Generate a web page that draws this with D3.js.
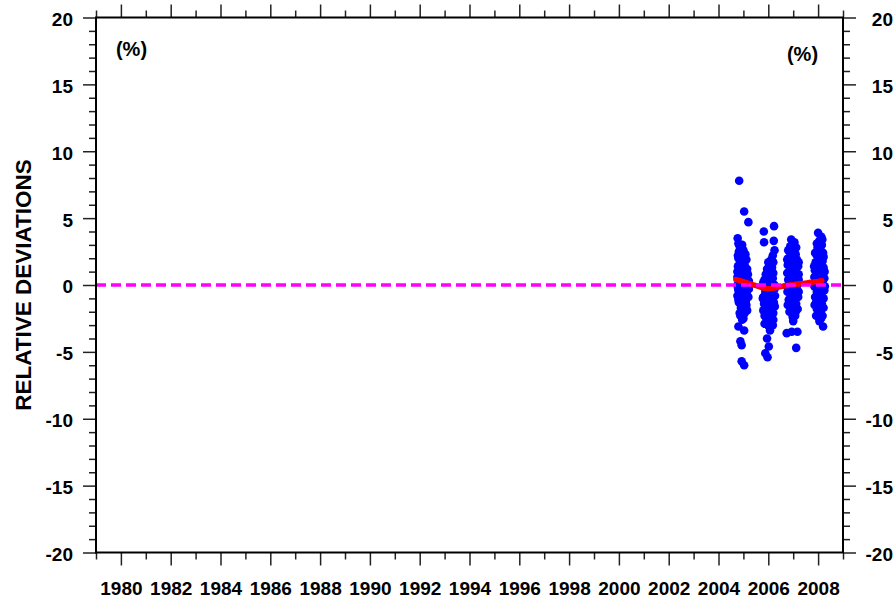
<!DOCTYPE html>
<html>
<head>
<meta charset="utf-8">
<script src="https://cdn.jsdelivr.net/npm/d3@7"></script>
<style>
  html, body { margin: 0; padding: 0; background: #fff; }
  svg { display: block; }
  text { font-family: "Liberation Sans", Arial, Helvetica, sans-serif; font-weight: bold; fill: #000; }
</style>
</head>
<body>
<svg id="chart" width="895" height="601"></svg>
<script>
// Axis labels
const yearLabels = [1980, 1982, 1984, 1986, 1988, 1990, 1992, 1994, 1996, 1998, 2000, 2002, 2004, 2006, 2008];
const yTickLabels = [-20, -15, -10, -5, 0, 5, 10, 15, 20];

// Individual relative deviations (%) : [decimal year, deviation]
const season2005 = [
  [2004.83, 7.8], [2005.03, 5.5], [2005.20, 4.7], [2004.77, 3.5], [2004.80, 3.1], [2004.85, 2.9],
  [2004.92, 2.7], [2004.82, 2.5], [2004.95, 2.4], [2004.88, 2.2], [2004.80, 2.0], [2005.00, 2.0],
  [2004.90, 1.8], [2004.85, 1.6], [2005.05, 1.5], [2004.78, 1.4], [2004.95, 1.3], [2004.88, 1.1],
  [2005.10, 1.0], [2004.82, 0.9], [2005.00, 0.8], [2004.92, 0.7], [2004.76, 0.6], [2005.15, 0.5],
  [2005.05, 0.4], [2004.85, 0.3], [2004.97, 0.2], [2005.20, 0.1], [2004.76, 0.0], [2005.08, -0.1],
  [2004.90, -0.2], [2005.22, -0.3], [2004.80, -0.4], [2005.02, -0.5], [2004.93, -0.6], [2005.14, -0.7],
  [2004.76, -0.8], [2005.00, -0.9], [2004.88, -1.0], [2005.10, -1.2], [2004.82, -1.3], [2004.97, -1.5],
  [2004.90, -1.7], [2005.03, -1.9], [2004.85, -2.1], [2005.05, -2.1], [2004.88, -2.3], [2004.80, -3.1],
  [2005.03, -3.4], [2004.88, -4.2], [2004.93, -4.5], [2004.93, -5.7], [2005.03, -6.0],
  [2005.12, 1.9], [2005.15, 1.2], [2005.18, 0.8], [2005.22, 0.3], [2005.16, -0.2], [2005.20, -0.9],
  [2004.78, 2.2], [2004.76, 1.0], [2004.78, -0.2], [2004.80, -1.1], [2005.12, -1.5], [2005.00, 2.6],
  [2004.95, 3.0], [2005.08, 2.3], [2005.15, -1.9], [2004.95, -2.6], [2005.00, -2.5], [2004.92, 0.0]
];
const season2006 = [
  [2006.23, 4.4], [2005.82, 4.0], [2005.83, 3.2], [2006.22, 3.3], [2006.25, 2.6], [2006.18, 2.2],
  [2006.12, 1.9], [2006.20, 1.7], [2006.05, 1.5], [2006.15, 1.3], [2005.95, 1.2], [2006.08, 1.0],
  [2006.20, 0.9], [2005.90, 0.8], [2006.02, 0.6], [2006.18, 0.5], [2005.85, 0.4], [2006.10, 0.3],
  [2005.95, 0.1], [2006.25, 0.0], [2005.80, -0.1], [2006.05, -0.2], [2006.20, -0.4], [2005.88, -0.5],
  [2006.00, -0.6], [2006.27, -0.8], [2005.80, -0.9], [2006.12, -1.0], [2005.93, -1.2], [2006.22, -1.3],
  [2005.83, -1.4], [2006.05, -1.5], [2006.15, -1.7], [2005.90, -1.8], [2006.00, -2.0], [2006.20, -2.1],
  [2005.85, -2.3], [2006.08, -2.4], [2005.95, -2.6], [2006.12, -2.7], [2005.85, -2.9], [2006.03, -3.1],
  [2006.07, -3.4], [2005.95, -4.0], [2006.02, -4.6], [2005.88, -5.1], [2005.97, -5.4],
  [2006.10, 1.4], [2005.98, 0.9], [2005.80, 0.2], [2006.25, -0.3], [2006.26, -1.6], [2005.78, -1.0],
  [2005.80, -1.9], [2006.20, -2.6], [2006.00, -3.0], [2005.92, 0.0], [2006.10, -0.4], [2005.90, -2.4],
  [2006.15, 0.2], [2006.00, 1.7], [2006.18, -3.0]
];
const season2007 = [
  [2006.92, 3.4], [2006.98, 3.1], [2006.88, 2.9], [2007.05, 2.7], [2006.85, 2.5], [2007.10, 2.3],
  [2006.95, 2.2], [2006.80, 2.0], [2007.15, 1.9], [2007.00, 1.7], [2006.78, 1.5], [2007.20, 1.4],
  [2006.90, 1.2], [2007.08, 1.1], [2006.76, 0.9], [2007.22, 0.8], [2006.95, 0.7], [2007.12, 0.5],
  [2006.80, 0.4], [2007.02, 0.3], [2007.20, 0.1], [2006.85, 0.0], [2006.97, -0.2], [2007.15, -0.3],
  [2006.77, -0.5], [2007.05, -0.6], [2006.90, -0.8], [2007.20, -0.9], [2006.82, -1.1], [2007.00, -1.2],
  [2007.12, -1.4], [2006.88, -1.5], [2007.05, -1.7], [2006.92, -1.9], [2007.10, -2.0], [2006.98, -2.2],
  [2006.98, -2.4], [2007.00, -2.7], [2006.74, -3.6], [2006.94, -3.5], [2007.17, -3.5], [2007.12, -4.7],
  [2007.05, 3.2], [2007.12, 2.8], [2006.80, 2.6], [2006.76, 1.9], [2007.22, 1.7], [2007.22, 0.4],
  [2006.75, -0.1], [2007.22, -0.5], [2006.78, -1.5], [2007.18, -1.8], [2006.85, -2.0], [2007.08, -2.3],
  [2006.95, 1.0], [2007.05, -0.2], [2006.88, -1.2]
];
const season2008 = [
  [2008.00, 3.9], [2008.13, 3.6], [2008.05, 3.3], [2008.15, 3.0], [2007.98, 2.8], [2008.10, 2.6],
  [2008.20, 2.4], [2007.95, 2.2], [2008.08, 2.0], [2008.18, 1.8], [2007.90, 1.7], [2008.05, 1.5],
  [2008.22, 1.3], [2007.87, 1.1], [2008.00, 1.0], [2008.15, 0.8], [2007.85, 0.6], [2008.25, 0.5],
  [2008.05, 0.4], [2007.92, 0.2], [2008.18, 0.1], [2007.85, -0.1], [2008.08, -0.2], [2008.25, -0.4],
  [2007.95, -0.5], [2008.12, -0.7], [2007.88, -0.9], [2008.22, -1.0], [2008.02, -1.1], [2007.92, -1.3],
  [2008.15, -1.4], [2008.05, -1.6], [2007.95, -1.8], [2008.10, -2.0], [2008.00, -2.2], [2008.12, -2.5],
  [2008.05, -2.7], [2008.20, -3.1],
  [2008.17, 3.4], [2007.95, 3.1], [2008.22, 2.1], [2007.88, 2.4], [2007.84, 1.4], [2008.26, 1.0],
  [2007.84, 0.0], [2008.27, -0.1], [2007.86, -1.5], [2008.22, -1.7], [2007.92, -2.3], [2008.18, -2.3],
  [2008.02, 0.6], [2008.10, -1.0]
];

// Smoothed trend of the deviations
const trendYears  = [2004.70, 2004.90, 2005.20, 2005.50, 2005.80, 2006.00, 2006.25, 2006.50, 2006.80, 2007.10, 2007.40, 2007.70, 2008.00, 2008.15];
const trendValues = [0.40, 0.30, 0.12, -0.05, -0.22, -0.28, -0.22, -0.12, -0.02, 0.05, 0.12, 0.20, 0.27, 0.32];

const plot = { left: 96, right: 843, top: 17.5, bottom: 552.5 };

const svg = d3.select("#chart");
const x = d3.scaleLinear().domain([1979, 2009]).range([plot.left, plot.right]);
const y = d3.scaleLinear().domain([-20, 20]).range([plot.bottom, plot.top]);

const allYears = d3.range(1979, 2010);
const minorYears = allYears.filter(v => v % 2 !== 0);
const minorY = d3.range(-20, 21).filter(v => v % 5 !== 0);
const plain = d => String(d);

function styleTicks(g) {
  g.select(".domain").remove();
  g.selectAll(".tick line").attr("stroke", "#222").attr("stroke-width", 1.5);
}

// Minor ticks (every year / every 1 %)
svg.append("g").attr("transform", `translate(0,${plot.bottom})`)
  .call(d3.axisBottom(x).tickValues(minorYears).tickSize(7).tickFormat(""))
  .call(styleTicks);
svg.append("g").attr("transform", `translate(0,${plot.top})`)
  .call(d3.axisTop(x).tickValues(minorYears).tickSize(7).tickFormat(""))
  .call(styleTicks);
svg.append("g").attr("transform", `translate(${plot.left},0)`)
  .call(d3.axisLeft(y).tickValues(minorY).tickSize(7).tickFormat(""))
  .call(styleTicks);
svg.append("g").attr("transform", `translate(${plot.right},0)`)
  .call(d3.axisRight(y).tickValues(minorY).tickSize(7).tickFormat(""))
  .call(styleTicks);

// Major ticks with labels
const xb = svg.append("g").attr("transform", `translate(0,${plot.bottom})`)
  .call(d3.axisBottom(x).tickValues(yearLabels).tickSize(13).tickPadding(16).tickFormat(plain))
  .call(styleTicks);
xb.selectAll("text").attr("font-size", 19).attr("fill", "#000");

svg.append("g").attr("transform", `translate(0,${plot.top})`)
  .call(d3.axisTop(x).tickValues(yearLabels).tickSize(13).tickFormat(""))
  .call(styleTicks);

const yl = svg.append("g").attr("transform", `translate(${plot.left},0)`)
  .call(d3.axisLeft(y).tickValues(yTickLabels).tickSize(13).tickPadding(10).tickFormat(plain))
  .call(styleTicks);
yl.selectAll("text").attr("font-size", 19).attr("fill", "#000").attr("dy", "0.42em");

const yr = svg.append("g").attr("transform", `translate(${plot.right},0)`)
  .call(d3.axisRight(y).tickValues(yTickLabels).tickSize(13).tickFormat(plain))
  .call(styleTicks);
yr.selectAll("text").attr("font-size", 19).attr("fill", "#000").attr("dy", "0.42em")
  .attr("text-anchor", "end").attr("x", 50);

// Scatter of individual deviations
const points = [].concat(season2005, season2006, season2007, season2008);
svg.append("g")
  .selectAll("circle")
  .data(points)
  .join("circle")
  .attr("cx", d => x(d[0]))
  .attr("cy", d => y(d[1]))
  .attr("r", 4.3)
  .attr("fill", "#0000ff");

// Trend curve
const trend = trendYears.map((t, i) => [t, trendValues[i]]);
svg.append("path")
  .datum(trend)
  .attr("fill", "none")
  .attr("stroke", "#ff0000")
  .attr("stroke-width", 5.5)
  .attr("stroke-linecap", "round")
  .attr("d", d3.line().x(d => x(d[0])).y(d => y(d[1])).curve(d3.curveMonotoneX));

// Zero reference line
svg.append("line")
  .attr("x1", plot.left).attr("x2", plot.right)
  .attr("y1", y(0)).attr("y2", y(0))
  .attr("stroke", "#ff00ff")
  .attr("stroke-width", 3.5)
  .attr("stroke-dasharray", "10,5");

// Frame
svg.append("rect")
  .attr("x", plot.left).attr("y", plot.top)
  .attr("width", plot.right - plot.left).attr("height", plot.bottom - plot.top)
  .attr("fill", "none").attr("stroke", "#000").attr("stroke-width", 2);

// Unit annotations
svg.append("text").attr("x", 131.5).attr("y", 56).attr("text-anchor", "middle")
  .attr("font-size", 20).text("(%)");
svg.append("text").attr("x", 802.5).attr("y", 61).attr("text-anchor", "middle")
  .attr("font-size", 20).text("(%)");

// Y axis title
svg.append("text")
  .attr("transform", `translate(31,${y(0)}) rotate(-90)`)
  .attr("text-anchor", "middle")
  .attr("font-size", 22.5)
  .text("RELATIVE DEVIATIONS");
</script>
</body>
</html>
